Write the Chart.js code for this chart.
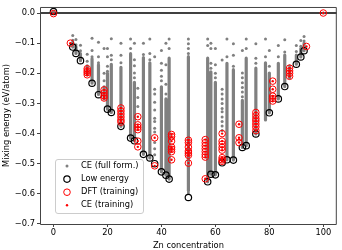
<!DOCTYPE html>
<html><head><meta charset="utf-8">
<script src="https://cdn.jsdelivr.net/npm/chart.js@4"></script>
<style>html,body{margin:0;padding:0;background:#fff}canvas{display:block}</style>
</head><body>
<canvas id="c" width="342" height="250"></canvas>
<script>
// ---------- data ----------
const seriesNames = ['CE (full form.)', 'Low energy', 'DFT (training)', 'CE (training)'];
const xTickVals = [0, 20, 40, 60, 80, 100];
const xTickLabels = ['0', '20', '40', '60', '80', '100'];
const yTickVals = [-0.7, -0.6, -0.5, -0.4, -0.3, -0.2, -0.1, 0.0];
const yTickLabels = ['\u22120.7', '\u22120.6', '\u22120.5', '\u22120.4', '\u22120.3', '\u22120.2', '\u22120.1', '0.0'];

// CE (full formation) columns: concentration, isolated dots above, dense band top / bottom
const ceConc = [0, 7.14, 8.33, 10, 12.5, 14.29, 16.67, 18.75, 20, 21.43, 25, 28.57, 30, 31.25, 33.33, 35.71, 37.5, 40, 41.67, 42.86, 50, 57.14, 58.33, 60, 62.5, 64.29, 66.67, 70, 71.43, 75, 78.57, 80, 83.33, 85.71, 87.5, 90, 91.67, 92.86, 100];
const ceTopDots = [
  [0.005], [-0.075, -0.090], [-0.088, -0.105], [-0.107, -0.125], [-0.137, -0.160],
  [-0.084, -0.124, -0.145], [-0.097, -0.145, -0.165], [-0.118, -0.200, -0.225],
  [-0.118, -0.145, -0.177, -0.193], [-0.085, -0.140, -0.155], [-0.100, -0.140, -0.165],
  [-0.086, -0.118], [-0.100, -0.155, -0.175, -0.199, -0.215], [-0.250, -0.280, -0.310],
  [-0.100, -0.138], [-0.086, -0.134, -0.155],
  [-0.145, -0.253, -0.269, -0.296, -0.322, -0.349, -0.360, -0.382, -0.395, -0.430, -0.450, -0.470],
  [-0.124, -0.167, -0.190, -0.210, -0.225], [-0.100, -0.172, -0.236, -0.269], [-0.086, -0.118],
  [-0.086, -0.102, -0.118, -0.134, -0.597], [-0.086, -0.108], [-0.100, -0.118, -0.167, -0.183],
  [-0.118, -0.172, -0.200, -0.215],
  [-0.156, -0.253, -0.269, -0.285, -0.300, -0.317, -0.328, -0.345, -0.360, -0.375, -0.390],
  [-0.086, -0.145], [-0.102, -0.140, -0.177], [-0.124, -0.199, -0.215, -0.231, -0.247, -0.262, -0.278],
  [-0.086, -0.118], [-0.102, -0.150, -0.167], [-0.086, -0.145], [-0.124, -0.177],
  [-0.108, -0.145], [-0.089, -0.129], [-0.175], [-0.108, -0.128], [-0.091, -0.110], [-0.078, -0.093], [0.0]
];
const ceBandTop = [null, -0.097, -0.112, -0.135, -0.175, -0.152, -0.172, -0.245, -0.200, -0.170, -0.180, -0.135, -0.230, null, -0.148, -0.165, null, -0.245, -0.285, -0.150, -0.145, -0.150, -0.195, -0.230, null, -0.167, -0.188, -0.290, -0.150, -0.183, -0.165, -0.199, -0.167, -0.140, -0.183, -0.140, -0.118, -0.100, null];
const ceBandBottom = [null, -0.113, -0.134, -0.158, -0.205, -0.233, -0.270, -0.285, -0.319, -0.330, -0.376, -0.415, -0.424, null, -0.469, -0.481, null, -0.527, -0.538, -0.551, -0.590, -0.560, -0.535, -0.537, null, -0.487, -0.488, -0.446, -0.440, -0.401, -0.355, -0.331, -0.285, -0.244, -0.215, -0.170, -0.146, -0.125, null];

// Low energy structures
const lowConc = [0, 7.14, 8.33, 10, 14.29, 16.67, 20, 21.43, 25, 28.57, 30, 33.33, 35.71, 37.5, 40, 41.67, 42.86, 50, 57.14, 58.33, 60, 62.5, 64.29, 66.67, 70, 71.43, 75, 80, 83.33, 85.71, 90, 91.67, 92.86];
const lowEnergy = [0.005, -0.113, -0.134, -0.158, -0.233, -0.271, -0.319, -0.330, -0.376, -0.415, -0.424, -0.469, -0.481, -0.500, -0.527, -0.538, -0.551, -0.612, -0.560, -0.535, -0.537, -0.497, -0.487, -0.488, -0.446, -0.440, -0.401, -0.331, -0.285, -0.244, -0.170, -0.146, -0.125];

// DFT training structures
const dftConc = [0, 6.25,
  12.5, 12.5, 12.5, 12.5,
  18.75, 18.75, 18.75, 18.75,
  25, 25, 25, 25, 25, 25,
  31.25, 31.25, 31.25, 31.25, 31.25, 31.25,
  37.5, 37.5,
  43.75, 43.75, 43.75, 43.75, 43.75, 43.75, 43.75,
  50, 50, 50, 50, 50, 50, 50,
  56.25, 56.25, 56.25, 56.25, 56.25, 56.25, 56.25, 56.25,
  62.5, 62.5, 62.5, 62.5, 62.5, 62.5, 62.5, 62.5,
  68.75, 68.75, 68.75,
  75, 75, 75, 75, 75, 75, 75,
  81.25, 81.25, 81.25, 81.25, 81.25,
  87.5, 87.5, 87.5, 87.5,
  93.75, 100];
const dftEnergy = [-0.002, -0.100,
  -0.185, -0.192, -0.198, -0.205,
  -0.255, -0.265, -0.275, -0.282,
  -0.315, -0.325, -0.335, -0.345, -0.355, -0.362,
  -0.344, -0.371, -0.379, -0.387, -0.425, -0.444,
  -0.414, -0.507,
  -0.403, -0.410, -0.425, -0.445, -0.452, -0.460, -0.487,
  -0.422, -0.430, -0.445, -0.458, -0.465, -0.472, -0.498,
  -0.420, -0.430, -0.440, -0.450, -0.460, -0.470, -0.478, -0.550,
  -0.400, -0.425, -0.435, -0.446, -0.455, -0.480, -0.487, -0.492,
  -0.369, -0.414, -0.430,
  -0.330, -0.340, -0.350, -0.358, -0.368, -0.378, -0.390,
  -0.226, -0.253, -0.276, -0.284, -0.292,
  -0.183, -0.192, -0.200, -0.210,
  -0.111, 0.000];
// CE prediction of training structures
const ceTrainEnergy = dftEnergy.slice();

// ---------- build library data ----------
const bandData = [];
ceConc.forEach((c, i) => {
  if (ceBandTop[i] !== null) {
    bandData.push({x: c, y: ceBandTop[i]}, {x: c, y: ceBandBottom[i]}, {x: c, y: null});
  }
});
const ceDotData = [];
ceConc.forEach((c, i) => ceTopDots[i].forEach(e => ceDotData.push({x: c, y: e})));
const lowData = lowConc.map((c, i) => ({x: c, y: lowEnergy[i]}));
const dftData = dftConc.map((c, i) => ({x: c, y: dftEnergy[i]}));
const ceTrainData = dftConc.map((c, i) => ({x: c, y: ceTrainEnergy[i]}));
const zeroLine = [{x: -5, y: 0}, {x: 105, y: 0}];

const GREY = '#808080', RED = '#ff0000';
Chart.defaults.font.family = '"DejaVu Sans", sans-serif';
Chart.defaults.font.size = 8.3;
Chart.defaults.color = '#000';

const framePlugin = {
  id: 'frame',
  afterDatasetsDraw(chart) {
    const {ctx, chartArea: a} = chart;
    ctx.save();
    ctx.strokeStyle = '#444';
    ctx.lineWidth = 1;
    ctx.beginPath();
    ctx.moveTo(a.left + 0.5, a.top + 0.5); ctx.lineTo(a.right - 0.5, a.top + 0.5);
    ctx.lineTo(a.right - 0.5, a.bottom + 0.5); ctx.lineTo(a.left + 0.5, a.bottom + 0.5);
    ctx.closePath();
    ctx.stroke();
    ctx.restore();
  }
};

const legendPlugin = {
  id: 'boxLegend',
  afterDraw(chart) {
    const {ctx, chartArea: a} = chart;
    const x0 = a.left + 15, y0 = a.bottom - 65, w = 88, h = 54;
    ctx.save();
    ctx.beginPath();
    ctx.roundRect(x0 + 0.5, y0 + 0.5, w, h, 2.5);
    ctx.fillStyle = 'rgba(255,255,255,0.8)';
    ctx.fill();
    ctx.strokeStyle = '#cccccc';
    ctx.lineWidth = 1;
    ctx.stroke();
    const mx = x0 + 12, tx = x0 + 26;
    seriesNames.forEach((name, i) => {
      const y = y0 + 7 + i * 13.1;
      ctx.beginPath();
      if (i === 0) { ctx.arc(mx, y, 1.5, 0, Math.PI * 2); ctx.fillStyle = GREY; ctx.fill(); }
      if (i === 1) { ctx.arc(mx, y, 3.2, 0, Math.PI * 2); ctx.strokeStyle = '#000'; ctx.lineWidth = 1.2; ctx.stroke(); }
      if (i === 2) { ctx.arc(mx, y, 3.3, 0, Math.PI * 2); ctx.strokeStyle = RED; ctx.lineWidth = 1; ctx.stroke(); }
      if (i === 3) { ctx.arc(mx, y, 1.2, 0, Math.PI * 2); ctx.fillStyle = RED; ctx.fill(); }
      ctx.fillStyle = '#000';
      ctx.font = '8.3px "DejaVu Sans", sans-serif';
      ctx.textBaseline = 'middle';
      ctx.textAlign = 'left';
      ctx.fillText(name, tx, y);
    });
    ctx.restore();
  }
};

new Chart(document.getElementById('c'), {
  type: 'scatter',
  data: {
    datasets: [
      {label: seriesNames[3], data: ceTrainData, pointRadius: 1.2, pointBorderWidth: 0, pointBackgroundColor: RED, pointBorderColor: RED},
      {label: seriesNames[2], data: dftData, pointRadius: 3.3, pointBorderWidth: 1, pointBackgroundColor: 'rgba(0,0,0,0)', pointBorderColor: RED},
      {label: seriesNames[1], data: lowData, pointRadius: 3.2, pointBorderWidth: 1.2, pointBackgroundColor: 'rgba(0,0,0,0)', pointBorderColor: '#000'},
      {label: seriesNames[0], data: ceDotData, pointRadius: 1.5, pointBorderWidth: 0, pointBackgroundColor: GREY, pointBorderColor: GREY},
      {label: 'band', data: bandData, showLine: true, spanGaps: false, pointRadius: 0, borderColor: GREY, borderWidth: 3.2, borderCapStyle: 'round'},
      {label: 'zero', data: zeroLine, showLine: true, pointRadius: 0, borderColor: '#000', borderWidth: 1.3}
    ]
  },
  options: {
    responsive: false,
    animation: false,
    devicePixelRatio: 1,
    events: [],
    layout: {padding: {left: 0, top: 2, right: 2, bottom: 0}},
    plugins: {legend: {display: false}, tooltip: {enabled: false}},
    scales: {
      x: {
        type: 'linear', min: -5, max: 105,
        afterBuildTicks: s => { s.ticks = xTickVals.map(v => ({value: v})); },
        afterFit: s => { s.height = 26; },
        grid: {display: true, drawOnChartArea: false, drawTicks: true, tickLength: 3, tickColor: '#444', tickWidth: 1},
        border: {display: false},
        ticks: {padding: 1, maxRotation: 0, autoSkip: false, callback: (v, i) => xTickLabels[i]},
        title: {display: true, text: 'Zn concentration', padding: {top: 0, bottom: -1}}
      },
      y: {
        type: 'linear', min: -0.7, max: 0.02,
        afterBuildTicks: s => { s.ticks = yTickVals.map(v => ({value: v})); },
        afterFit: s => { s.width = 40; },
        grid: {display: true, drawOnChartArea: false, drawTicks: true, tickLength: 3, tickColor: '#444', tickWidth: 1},
        border: {display: false},
        ticks: {padding: 2, autoSkip: false, callback: (v, i) => yTickLabels[i]},
        title: {display: true, text: 'Mixing energy (eV/atom)', padding: {top: 1.5, bottom: 0}}
      }
    }
  },
  plugins: [framePlugin, legendPlugin]
});
</script>
</body></html>
